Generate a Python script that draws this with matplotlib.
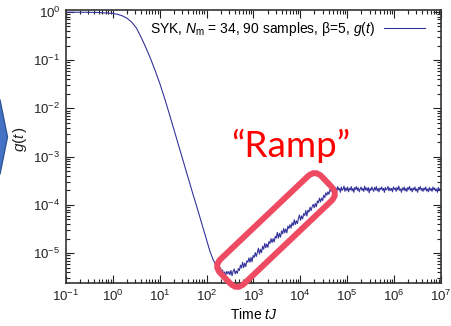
import numpy as np
import matplotlib
matplotlib.use("Agg")
from matplotlib import pyplot as plt
from matplotlib import patches, transforms
from matplotlib.ticker import LogLocator, NullFormatter

# smooth early-time decay, log10 t and log10 g(t)
decay_logt = [-1.0, -0.6, -0.3, 0.0, 0.1, 0.2, 0.3, 0.4, 0.5, 0.6, 0.7, 0.8, 0.9, 1.0,
              1.1, 1.2, 1.3, 1.4, 1.5, 1.6, 1.7, 1.8, 1.9, 2.0, 2.07, 2.14, 2.2]
decay_logg = [-0.005, -0.007, -0.012, -0.03, -0.05, -0.08, -0.13, -0.21, -0.33, -0.52, -0.73,
              -0.96, -1.21, -1.48, -1.78, -2.10, -2.43, -2.76, -3.09, -3.42, -3.75, -4.07,
              -4.4, -4.73, -4.96, -5.14, -5.25]

# noisy ramp, 110 samples from t=10^2.25 to 10^4.7
ramp_range = (2.25, 4.70)
ramp_logg = [-5.30, -5.37, -5.30, -5.39, -5.35, -5.44, -5.39, -5.46, -5.38, -5.43,
             -5.38, -5.45, -5.36, -5.47, -5.38, -5.33, -5.43, -5.37, -5.42, -5.32,
             -5.36, -5.25, -5.31, -5.19, -5.30, -5.21, -5.28, -5.16, -5.19, -5.10,
             -5.19, -5.09, -5.18, -5.05, -5.09, -4.99, -5.07, -4.99, -4.90, -5.02,
             -4.92, -4.99, -4.86, -4.92, -4.80, -4.89, -4.81, -4.88, -4.76, -4.80,
             -4.70, -4.78, -4.70, -4.77, -4.65, -4.69, -4.57, -4.69, -4.59, -4.67,
             -4.54, -4.60, -4.49, -4.58, -4.50, -4.58, -4.44, -4.49, -4.41, -4.48,
             -4.37, -4.43, -4.31, -4.41, -4.33, -4.39, -4.28, -4.21, -4.32, -4.23,
             -4.29, -4.18, -4.22, -4.12, -4.23, -4.11, -4.15, -4.05, -4.12, -4.04,
             -3.99, -4.06, -3.97, -4.04, -3.92, -3.96, -3.86, -3.94, -3.86, -3.91,
             -3.80, -3.85, -3.75, -3.80, -3.73, -3.78, -3.68, -3.72, -3.66, -3.68]

# plateau, 120 samples from t=10^4.72 to 10^7
plateau_range = (4.72, 7.0)
plateau_logg = [-3.64, -3.71, -3.65, -3.72, -3.62, -3.69, -3.66, -3.74, -3.63, -3.70,
                -3.67, -3.61, -3.72, -3.65, -3.70, -3.63, -3.73, -3.66, -3.69, -3.62,
                -3.71, -3.66, -3.74, -3.64, -3.68, -3.62, -3.70, -3.65, -3.73, -3.67,
                -3.63, -3.70, -3.66, -3.72, -3.61, -3.69, -3.65, -3.71, -3.64, -3.75,
                -3.66, -3.70, -3.63, -3.68, -3.72, -3.64, -3.69, -3.62, -3.71, -3.66,
                -3.73, -3.65, -3.68, -3.63, -3.70, -3.66, -3.74, -3.64, -3.69, -3.67,
                -3.62, -3.71, -3.65, -3.70, -3.66, -3.73, -3.63, -3.68, -3.65, -3.72,
                -3.64, -3.69, -3.61, -3.70, -3.67, -3.74, -3.65, -3.69, -3.63, -3.71,
                -3.66, -3.72, -3.64, -3.68, -3.62, -3.70, -3.66, -3.73, -3.65, -3.69,
                -3.63, -3.71, -3.67, -3.74, -3.64, -3.68, -3.62, -3.70, -3.66, -3.72,
                -3.65, -3.69, -3.63, -3.71, -3.67, -3.73, -3.64, -3.70, -3.66, -3.72,
                -3.63, -3.69, -3.65, -3.71, -3.67, -3.74, -3.64, -3.70, -3.66, -3.69]

legend_label = r"SYK, $N_\mathrm{m}$ = 34, 90 samples, β=5, $g(t)$"

plt.rcParams["font.family"] = ["Liberation Sans", "DejaVu Sans"]
plt.rcParams["mathtext.fontset"] = "custom"
plt.rcParams["mathtext.rm"] = "Liberation Sans"
plt.rcParams["mathtext.it"] = "Liberation Sans:italic"

logt = np.concatenate([decay_logt,
                       np.linspace(ramp_range[0], ramp_range[1], len(ramp_logg)),
                       np.linspace(plateau_range[0], plateau_range[1], len(plateau_logg))])
logg = np.concatenate([decay_logg, ramp_logg, plateau_logg])
t = 10.0 ** logt
g = 10.0 ** logg

W, H = 452, 326
fig = plt.figure(figsize=(W / 100, H / 100), dpi=100)
ax = fig.add_axes([66 / W, 1 - 283 / H, (441 - 66) / W, (283 - 10) / H])

line_col = "#34349c"
ax.plot(t, g, color=line_col, lw=0.8, label=legend_label)
ax.set_xscale("log")
ax.set_yscale("log")
ax.set_xlim(1e-1, 1e7)
ax.set_ylim(10 ** -5.62, 10 ** 0.04)

ax.xaxis.set_major_locator(LogLocator(base=10, numticks=20))
ax.xaxis.set_minor_locator(LogLocator(base=10, subs=np.arange(2, 10), numticks=20))
ax.xaxis.set_minor_formatter(NullFormatter())
ax.yaxis.set_major_locator(LogLocator(base=10, numticks=20))
ax.yaxis.set_minor_locator(LogLocator(base=10, subs=np.arange(2, 10), numticks=20))
ax.yaxis.set_minor_formatter(NullFormatter())

ax.tick_params(which="both", direction="in", top=True, right=True, colors="#222222",
               labelcolor="#222222", width=0.8, labelsize=9.5)
ax.tick_params(which="major", length=6, pad=4)
ax.tick_params(which="minor", length=3)
for s in ax.spines.values():
    s.set_color("#333333")
    s.set_linewidth(1.2)

ax.set_xlabel(r"Time $tJ$", fontsize=10, labelpad=2)
fig.text(20 / W, 1 - 139 / H, r"$g(t\,)$", rotation=90, fontsize=11,
         ha="center", va="center", color="#222222")

ax.legend(loc="upper right", bbox_to_anchor=(0.98, 0.995), frameon=False,
          markerfirst=False, handlelength=3.0, handletextpad=0.6, fontsize=10,
          borderaxespad=0.2)

# pixel coordinates (y up) -> display
px = transforms.Affine2D().scale(1 / 100) + fig.dpi_scale_trans

# blue arrow at the left edge
arrow = patches.Polygon([(-10, H - 100), (0, H - 100), (7.5, H - 137), (0, H - 174), (-10, H - 174)],
                        closed=True, facecolor="#4472C4", edgecolor="#2F5597", lw=1,
                        transform=px, clip_on=False)
fig.patches.append(arrow)

# red rounded box around the ramp
cx, cy, bw, bh, ang = 276, H - 230, 140, 34, 43.5
box = patches.FancyBboxPatch((cx - bw / 2, cy - bh / 2), bw, bh,
                             boxstyle="round,pad=0,rounding_size=10",
                             facecolor="none", edgecolor="#EE4B62", lw=4.3,
                             transform=transforms.Affine2D().rotate_deg_around(cx, cy, ang) + px)
fig.patches.append(box)

fig.text(291 / W, 1 - 146 / H, "“Ramp”", color="#FF0000", fontsize=26.5,
         family=["Lato", "DejaVu Sans"], ha="center", va="center")

fig.savefig("out.png", dpi=100)
